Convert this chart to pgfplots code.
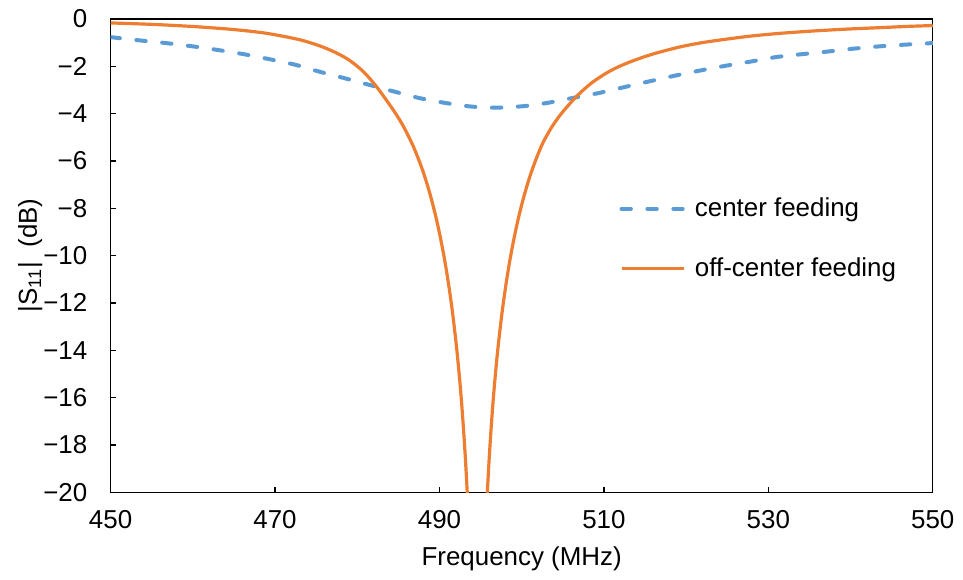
\documentclass[border=0pt]{standalone}
\usepackage{pgfplots}
\pgfplotsset{compat=1.18}
\usepackage{fontspec}
\setmainfont{Liberation Sans}
\definecolor{cblue}{HTML}{5B9BD5}
\definecolor{corange}{HTML}{ED7D31}
\begin{document}
\fontsize{13pt}{15pt}\selectfont
\begin{tikzpicture}
\begin{axis}[
  scale only axis,
  width=412.5pt, height=237.5pt,
  xmin=450, xmax=550, ymin=-20, ymax=0,
  xtick={450,470,...,550},
  ytick={-20,-18,...,0},
  yticklabels={−20,−18,−16,−14,−12,−10,−8,−6,−4,−2,0},
  xtick pos=bottom, ytick pos=left,
  tick align=inside,
  major tick length=2.5pt,
  tick style={black, line width=0.6pt},
  axis line style={black, line width=0.65pt},
  /pgf/number format/assume math mode=true,
  /pgf/number format/1000 sep={},
  ticklabel style={font=\fontsize{13pt}{15pt}\selectfont},
  xticklabel style={yshift=-4.5pt},
  yticklabel style={xshift=-7.2pt},
  xlabel={Frequency (MHz)},
  ylabel={|S\textsubscript{11}|\ \ (dB)},
  label style={font=\fontsize{13pt}{15pt}\selectfont},
  xlabel style={at={(axis description cs:0.5,0)}, anchor=base, yshift=-36.6pt},
  ylabel style={at={(axis description cs:-0.0897,0.5)}, anchor=base, rotate=0},
  legend style={draw=none, fill=none, inner sep=0pt, outer sep=0pt,
    at={(axis description cs:0.619,0.641)}, anchor=north west,
    row sep=10.1pt, font=\fontsize{13pt}{15pt}\selectfont,
    nodes={inner sep=0.333em}},
  legend cell align=left,
  legend image code/.code={\draw[#1] (0pt,0pt) -- (31.5pt,0pt);},
]
\addplot[cblue, line width=2pt, line cap=round, dash pattern=on 4.7pt off 8.3pt, smooth] coordinates {
(450,-0.77) (453.6,-0.91) (456.7,-1.02) (460.0,-1.16) (463.0,-1.31) (466.2,-1.49)
(469.3,-1.70) (472.5,-1.94) (475.3,-2.22) (478.4,-2.50) (481.4,-2.78) (484.4,-3.06)
(487.5,-3.34) (490.7,-3.55) (493.8,-3.70) (496.8,-3.75) (500.1,-3.69) (503.1,-3.55)
(506.2,-3.34) (509.4,-3.13) (512.5,-2.88) (515.5,-2.64) (518.6,-2.40) (521.7,-2.18)
(524.8,-1.98) (527.9,-1.80) (531.0,-1.61) (534.1,-1.49) (537.2,-1.38) (540.3,-1.26)
(543.5,-1.16) (546.5,-1.09) (550,-1.02)
};
\addlegendentry{center feeding}
\addplot[corange, line width=1.6pt, smooth] coordinates {
(450,-0.17) (455,-0.23) (460,-0.32) (465,-0.45) (469,-0.61) (473,-0.88)
(475.6,-1.16) (477.6,-1.46) (479.1,-1.76) (480.6,-2.18) (481.6,-2.55) (482.6,-2.98)
(483.6,-3.46) (484.6,-3.96) (485.6,-4.53) (486.6,-5.22) (487.1,-5.62) (487.6,-6.06)
(488.1,-6.55) (488.6,-7.10) (489.1,-7.72) (489.6,-8.42) (490.1,-9.22) (490.6,-10.13)
(491.1,-11.19) (491.6,-12.44) (492.1,-13.95) (492.5,-15.41) (492.8,-16.72) (493.1,-18.27)
(493.35,-19.83) (493.6,-21.76) (493.9,-24.6)
};
\addlegendentry{off-center feeding}
\addplot[corange, line width=1.6pt, smooth, forget plot] coordinates {
(495.3,-24.6) (495.6,-21.76) (495.85,-19.83) (496.1,-18.27) (496.4,-16.72) (496.7,-15.41)
(497.1,-13.95) (497.6,-12.44) (498.1,-11.19) (498.6,-10.13) (499.1,-9.22) (499.6,-8.42)
(500.1,-7.72) (500.6,-7.10) (501.1,-6.55) (501.6,-6.06) (502.1,-5.62) (502.6,-5.22)
(503.6,-4.60) (504.6,-4.10) (505.6,-3.68) (506.6,-3.30) (507.6,-2.97) (508.6,-2.68)
(510.1,-2.33) (511.6,-2.05) (513.6,-1.76) (516.1,-1.47) (519.3,-1.18) (522,-1.00)
(525,-0.85) (528,-0.72) (531.4,-0.61) (535,-0.52) (539,-0.44) (543.5,-0.37)
(547,-0.315) (550,-0.28)
};
\path (rel axis cs:0,0) ++(-55.5pt,-42.5pt) coordinate (bbsw);
\path (rel axis cs:1,1) ++(13.5pt,9.5pt) coordinate (bbne);
\end{axis}
\path (bbsw) rectangle (bbne);
\end{tikzpicture}
\end{document}
